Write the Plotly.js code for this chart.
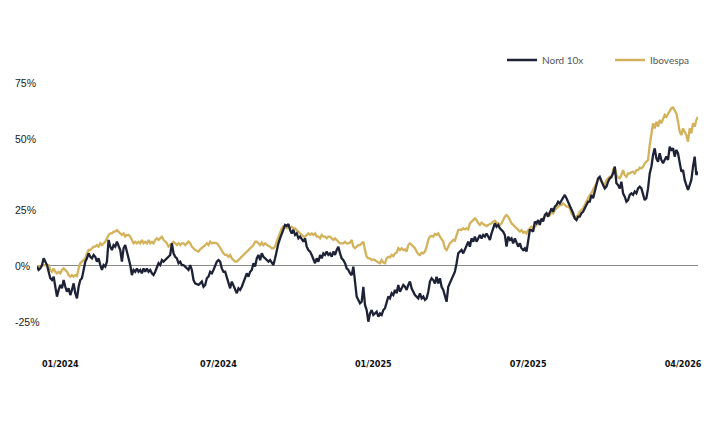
<!DOCTYPE html>
<html><head><meta charset="utf-8">
<script src="https://cdn.plot.ly/plotly-3.0.1.min.js"></script>
<style>html,body{margin:0;padding:0;background:#fff;}#chart{width:710px;height:427px;}</style>
</head><body><div id="chart"></div>
<script>
// Cumulative return (%) by trading-day sample
const nord10x = [
-0.4,-1.9,-1.2,0.3,3.3,1.8,0.3,-2.7,-5.6,-6.4,-4.9,-9.4,-13.8,-10.8,-8.6,-10.1,-6.4,-9.4,-11.6,-10.1,
-13.1,-10.8,-7.9,-12.3,-14.6,-9.4,-6.4,-5.6,-1.9,1.8,3.3,5.5,4.0,3.3,4.8,4.0,1.8,3.3,0.3,-1.9,
0.3,-0.4,1.8,11.5,8.5,7.0,9.2,8.5,10.7,9.2,7.0,1.8,7.8,9.2,6.3,3.3,0.3,-4.2,-1.9,-2.7,
-1.2,-2.7,-1.9,-3.4,-1.2,-2.7,-1.2,-2.7,-1.9,-3.4,-4.2,-2.7,-0.4,1.1,0.3,2.5,1.8,2.5,3.3,4.0,
4.8,10.0,5.5,4.0,3.3,1.1,1.8,0.3,0.3,-0.4,-1.2,-1.9,0.3,-1.9,-6.4,
-7.9,-8.2,-8.6,-7.9,-7.1,-9.4,-8.6,-5.6,-4.9,-2.7,-3.4,-1.9,0.3,1.8,2.5,1.8,-1.2,-2.7,-2.7,-4.9,
-7.1,-10.1,-7.1,-8.6,-10.8,-12.3,-10.1,-10.8,-9.4,-7.1,-5.6,-3.4,-4.9,-2.7,-1.9,1.1,-0.4,3.3,4.8,2.5,
5.5,4.0,3.3,2.5,1.8,2.5,1.1,0.3,3.3,7.0,10.0,12.2,14.4,16.7,18.2,17.7,18.6,16.0,14.4,16.0,
13.7,14.4,12.2,13.0,11.5,10.7,12.2,8.5,7.0,6.3,4.8,2.5,1.1,3.3,1.8,4.8,3.3,5.5,4.8,6.3,
4.8,5.5,4.0,6.3,4.8,7.0,8.5,5.5,3.3,2.5,1.1,-1.2,-1.9,-3.4,-4.2,-0.4,-6.4,-13.8,-15.3,
-16.8,-16.1,-9.4,-17.5,-19.8,-25.0,-21.3,-19.8,-22.0,-21.3,-20.5,-22.8,-21.3,-22.0,-19.8,-19.0,-16.1,-13.8,-14.6,-12.3,
-13.1,-10.8,-12.3,-8.6,-11.6,-10.1,-8.6,-9.4,-10.8,-8.6,-7.1,-10.1,-11.6,-13.1,-13.8,-14.6,-12.3,-14.6,-13.8,-15.3,
-14.6,-11.6,-7.1,-5.6,-6.4,-7.9,-4.9,-7.9,-5.6,-9.4,-10.8,-13.1,-16.1,-9.4,-7.9,-6.4,-4.2,-2.7,1.1,5.5,
6.3,7.0,5.5,7.0,9.2,10.7,8.5,12.2,10.7,13.0,10.7,12.2,13.7,12.2,13.7,13.0,14.4,13.0,11.5,14.4,
16.7,18.9,17.4,18.2,16.7,15.9,15.2,13.7,8.5,13.0,11.5,12.2,10.0,12.2,10.7,8.5,10.0,7.8,7.0,
7.8,6.3,12.2,15.9,15.9,15.2,19.7,18.9,20.4,18.2,21.1,19.7,22.6,23.4,21.9,23.4,25.6,24.1,26.4,27.1,
28.6,27.8,29.3,30.8,31.6,30.1,28.6,27.1,25.6,23.4,21.1,20.4,21.9,21.9,23.4,24.1,25.6,27.1,28.6,28.6,
31.6,30.1,33.1,36.0,39.0,39.7,37.5,36.0,34.5,35.3,37.5,39.0,39.7,41.2,44.2,36.8,36.0,34.5,37.5,32.3,
30.8,28.6,29.3,31.6,32.3,31.6,33.1,32.3,34.5,35.3,34.5,31.6,29.3,30.1,34.5,41.2,44.2,49.4,52.4,47.9,
46.4,50.2,47.2,45.7,47.2,48.7,47.2,53.1,51.7,52.4,48.7,51.7,50.2,45.0,42.0,42.7,38.3,36.0,33.8,36.0,
38.3,44.2,48.7,40.5,42.0
];
const ibovespa = [
-0.4,-0.4,-0.4,-0.1,0.3,0.3,0.3,0.3,-1.9,-2.7,-1.2,-2.7,-3.4,-2.7,-3.4,-1.9,-1.2,-1.9,-2.7,-4.2,
-4.9,-4.2,-4.9,-4.2,-4.6,-1.2,1.1,1.8,2.5,3.3,5.5,7.0,7.0,7.8,8.5,8.5,9.2,8.5,10.0,9.2,
10.0,10.7,12.2,13.7,14.4,14.4,15.2,15.2,15.9,15.2,14.4,13.7,14.4,13.0,13.7,13.7,13.0,11.5,10.0,10.7,
10.0,10.7,10.0,11.5,10.0,10.7,10.0,11.5,10.0,10.7,10.0,11.5,12.2,11.5,12.2,13.0,11.5,10.7,10.0,8.5,
9.2,10.0,10.7,10.0,9.2,10.0,9.2,10.0,10.0,9.2,10.0,10.7,10.0,8.5,7.8,
7.0,6.7,6.3,7.3,7.8,8.5,9.2,10.0,9.2,10.7,10.0,10.3,10.0,10.0,9.2,7.8,6.3,5.5,4.8,4.8,
4.0,4.8,3.3,2.5,1.8,1.8,2.5,3.3,4.0,4.8,5.5,6.3,7.0,7.8,8.5,9.2,10.7,10.7,10.0,9.2,
10.3,9.2,10.0,9.2,8.8,8.5,7.8,7.8,8.5,10.7,13.0,15.2,16.7,17.7,17.4,16.7,17.4,16.7,17.4,16.7,
16.7,15.9,15.2,14.4,13.7,13.0,13.0,13.7,14.4,13.7,14.4,13.7,14.4,13.0,13.0,12.2,13.7,13.0,13.0,12.2,
13.0,13.0,12.2,11.5,12.2,11.5,10.7,10.0,10.0,10.0,10.7,10.0,10.0,10.3,11.5,8.5,7.8,8.5,9.2,
9.2,10.0,10.7,7.0,4.0,3.3,3.3,2.5,2.8,2.5,1.8,1.4,1.1,2.5,1.4,1.1,3.3,4.0,3.7,4.8,
4.3,5.5,5.8,7.8,7.0,7.8,7.0,7.3,6.3,9.2,10.0,9.2,8.2,7.8,6.3,5.2,4.8,5.8,5.5,6.3,
8.5,11.5,13.0,13.3,13.0,14.2,13.7,14.4,13.0,11.8,10.7,7.8,7.0,8.5,10.0,10.7,11.5,11.2,13.7,15.9,
16.2,15.9,16.7,16.2,16.7,16.2,18.9,19.7,20.4,21.1,20.4,18.9,18.2,19.2,18.6,18.2,17.7,18.2,18.6,18.9,
19.7,20.1,19.2,18.9,18.2,18.9,20.4,21.9,22.6,21.9,20.4,18.9,18.2,17.4,16.7,16.2,15.2,15.9,14.7,
15.2,14.4,15.9,16.7,17.4,16.7,17.4,17.9,18.9,19.7,20.4,21.1,21.9,22.6,23.4,22.6,24.1,23.4,24.9,25.6,
26.4,27.1,27.1,27.8,27.1,26.4,26.4,25.6,23.4,21.9,21.1,21.9,22.6,24.1,24.9,25.6,27.1,28.6,30.1,31.6,
32.3,33.8,36.0,36.8,38.3,39.0,37.5,36.8,36.0,38.3,39.0,39.7,39.0,42.7,44.2,40.5,39.3,39.0,40.5,42.7,
40.5,39.7,41.2,41.2,41.7,42.0,41.2,42.7,42.7,43.8,43.5,44.2,45.7,46.4,47.2,53.9,59.1,63.6,61.3,64.3,
62.1,65.0,63.6,65.8,67.3,66.5,68.0,69.5,70.3,70.6,69.5,68.0,64.3,59.8,58.3,61.3,59.8,58.3,55.4,61.3,
59.1,63.6,62.1,65.0,66.5
];
const xTickPos = [14, 109, 202, 295, 388];
const xTickText = ['01/2024', '07/2024', '01/2025', '07/2025', '04/2026'];
const yTickVals = [81.4, 56.6, 25, 0, -25];
const yTickText = ['75%', '50%', '25%', '0%', '-25%'];

const days = nord10x.map((_, i) => i);

const traces = [
  {x: days, y: ibovespa, name: 'Ibovespa', type: 'scatter', mode: 'lines',
   line: {color: '#d3b25c', width: 2.3}, legendrank: 2, hoverinfo: 'skip'},
  {x: days, y: nord10x, name: 'Nord 10x', type: 'scatter', mode: 'lines',
   line: {color: '#1e2236', width: 2.3}, legendrank: 1, hoverinfo: 'skip'}
];

const layout = {
  width: 710, height: 427,
  margin: {l: 37, r: 12, t: 60, b: 87, autoexpand: false},
  paper_bgcolor: '#ffffff', plot_bgcolor: '#ffffff',
  xaxis: {range: [0, days.length - 1], tickmode: 'array', tickvals: xTickPos, ticktext: xTickText,
    showgrid: false, zeroline: false, showline: false, ticks: '', automargin: false,
    tickfont: {family: '"DejaVu Sans Condensed", sans-serif', size: 9, color: '#111111', weight: 600},
    ticklabelstandoff: 17},
  yaxis: {range: [-33.17, 91.83], showticklabels: false, showgrid: false, ticks: '', automargin: false,
    zeroline: true, zerolinecolor: '#8a8a8a', zerolinewidth: 1.5},
  showlegend: true,
  legend: {orientation: 'h', x: 0.7035, xanchor: 'left', y: 1.0, yanchor: 'middle',
    font: {family: 'Lato, sans-serif', size: 10, color: '#555555'},
    entrywidth: 63, entrywidthmode: 'pixels', itemwidth: 30, bgcolor: 'rgba(0,0,0,0)'},
  annotations: yTickVals.map((v, i) => ({
    xref: 'paper', yref: 'y', x: -0.0363, y: v, xanchor: 'left', yanchor: 'middle',
    text: yTickText[i], showarrow: false,
    font: {family: '"Liberation Sans", Arial, sans-serif', size: 10.5, color: '#1a1a1a'}
  }))
};

Plotly.newPlot('chart', traces, layout, {displayModeBar: false, staticPlot: true});
</script>
</body></html>
